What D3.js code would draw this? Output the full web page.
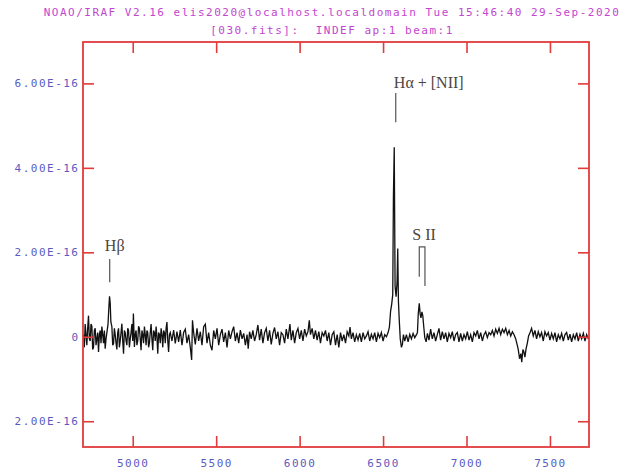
<!DOCTYPE html>
<html>
<head>
<meta charset="utf-8">
<script src="https://cdn.jsdelivr.net/npm/d3@7"></script>
<style>
  body { margin: 0; background: #fff; }
  .mono { font-family: "DejaVu Sans Mono", "Liberation Mono", monospace; font-size: 11px; letter-spacing: 1.5px; white-space: pre; }
  .note { font-family: "Liberation Serif", "DejaVu Serif", serif; font-size: 16px; fill: #4d4640; }
</style>
</head>
<body>
<svg id="plot" width="634" height="473"></svg>
<script>
// title lines
var titleLines = [
  "NOAO/IRAF V2.16 elis2020@localhost.localdomain Tue 15:46:40 29-Sep-2020",
  "[030.fits]:  INDEF ap:1 beam:1"
];

// axis ticks
var xTickValues = [5000, 5500, 6000, 6500, 7000, 7500];
var yTickValues = [-2, 0, 2, 4, 6];            // flux in 1e-16 units
var yTickLabels = ["2.00E-16", "0", "2.00E-16", "4.00E-16", "6.00E-16"];

// spectrum: [wavelength (A), flux (1e-16)]
var spectrum = [
  [4705,0.05],[4710,-0.25],[4715,0.30],[4720,0.05],[4725,-0.20],[4730,0.20],[4735,0.50],[4740,-0.05],
  [4745,-0.10],[4750,0.30],[4755,0.25],[4760,-0.30],[4765,-0.25],[4770,0.15],[4775,0.20],[4780,-0.20],
  [4785,-0.05],[4790,0.10],[4795,-0.36],[4800,0.05],[4805,0.15],[4810,-0.15],[4815,0.24],[4820,0.05],
  [4825,-0.15],[4830,0.15],[4835,-0.28],[4840,-0.05],[4845,0.10],[4852,0.30],
  [4857,0.70],[4861,0.96],[4865,0.80],[4869,0.35],[4875,0.24],[4880,-0.20],[4885,-0.16],[4890,0.20],
  [4895,0.05],[4900,-0.15],[4905,-0.30],[4910,0.10],[4915,0.20],[4920,-0.25],[4925,-0.10],[4930,0.10],
  [4935,0.31],[4940,-0.10],[4945,-0.40],[4950,0.15],[4955,0.10],[4960,-0.10],[4965,-0.20],[4970,0.20],
  [4975,0.15],[4980,-0.25],[4985,-0.05],[4990,0.10],[4995,0.30],[5000,-0.10],[5004,0.55],[5010,-0.24],
  [5015,0.05],[5020,0.15],[5025,-0.20],[5030,-0.10],[5035,0.25],[5040,0.20],[5045,-0.05],[5050,-0.32],
  [5055,0.15],[5060,0.05],[5065,-0.15],[5070,0.24],[5075,0.05],[5080,-0.20],[5085,0.15],[5090,0.10],
  [5095,-0.25],[5100,-0.15],[5105,0.10],[5110,0.30],[5115,-0.05],[5120,-0.32],[5125,0.15],[5130,0.10],
  [5135,-0.10],[5140,0.24],[5145,0.00],[5150,-0.40],[5155,0.10],[5160,0.05],[5165,-0.15],[5170,0.20],
  [5175,0.05],[5180,-0.25],[5185,0.15],[5190,0.10],[5195,-0.15],[5200,0.20],[5205,0.35],[5210,-0.10],
  [5215,-0.36],[5220,0.05],
  [5225,0.10],[5235,-0.10],[5245,0.16],[5255,-0.16],[5265,0.12],[5275,-0.12],[5285,0.16],[5295,-0.20],
  [5305,0.10],[5315,0.18],[5325,-0.15],[5335,0.05],[5345,-0.25],[5353,-0.55],[5358,0.39],[5365,0.10],
  [5375,-0.18],[5385,0.20],[5395,-0.10],[5405,0.12],[5415,-0.20],[5425,0.24],[5435,0.30],[5445,-0.15],
  [5455,0.10],[5465,-0.20],[5475,-0.32],[5485,0.15],[5495,-0.05],[5505,0.20],[5515,-0.20],[5525,0.05],
  [5535,0.18],[5545,-0.12],[5555,0.10],[5565,-0.25],[5575,0.15],[5585,-0.05],[5595,0.12],[5605,0.24],
  [5615,-0.10],[5625,0.10],[5635,-0.15],[5645,0.16],[5655,-0.05],[5665,0.08],[5675,-0.20],[5685,0.05],
  [5692,-0.28],[5700,0.12],[5710,-0.05],[5720,0.15],[5730,-0.10],[5740,0.05],[5750,0.28],[5760,-0.08],
  [5770,0.18],[5780,-0.15],[5790,0.10],[5800,0.20],[5810,-0.10],[5820,0.15],[5830,-0.18],[5840,0.08],
  [5850,0.22],[5860,-0.05],[5870,0.12],[5880,-0.20],[5890,0.10],[5900,0.05],[5910,-0.15],[5920,0.18],
  [5930,-0.05],[5942,0.30],[5950,-0.08],[5960,0.15],[5970,-0.15],[5980,0.10],[5990,0.20],[6000,-0.05],
  [6010,0.15],[6020,-0.10],[6030,0.18],[6040,0.02],[6050,0.12],[6058,0.39],[6065,0.05],[6075,0.20],
  [6085,-0.05],[6095,0.15],[6105,-0.08],[6115,0.12],[6125,-0.15],[6135,0.10],[6145,0.02],[6155,0.15],
  [6165,-0.10],[6175,0.10],[6185,-0.20],[6195,0.05],[6205,0.12],[6215,-0.20],[6225,0.05],[6235,-0.25],
  [6245,0.10],[6255,-0.10],[6265,0.05],[6275,-0.15],[6285,0.12],[6295,0.02],[6302,0.23],[6310,-0.05],
  [6320,0.10],[6330,-0.12],[6340,0.05],[6350,-0.08],[6360,0.08],[6370,-0.12],[6380,0.10],[6390,-0.05],
  [6400,0.02],[6410,0.12],[6420,-0.10],[6430,0.06],[6440,-0.05],[6450,0.10],[6460,-0.12],[6470,0.08],
  [6480,-0.02],[6490,0.10],[6500,-0.10],[6510,0.05],[6520,0.00],[6530,0.10],[6538,0.23],[6545,0.60],
  [6552,0.78],[6558,1.00],[6562,3.30],[6567,4.49],[6572,1.20],[6578,0.95],[6584,1.30],[6588,2.09],
  [6592,0.85],[6597,0.40],[6603,-0.05],[6610,-0.25],[6616,-0.18],[6622,0.05],[6630,-0.10],[6640,0.05],
  [6650,-0.12],[6660,0.06],[6670,-0.05],[6680,0.08],[6690,-0.02],[6700,0.05],[6706,0.10],[6711,0.55],
  [6717,0.79],[6722,0.55],[6727,0.45],[6733,0.59],[6738,0.50],[6744,0.23],[6750,-0.02],[6758,-0.12],
  [6766,0.08],[6775,-0.08],[6785,0.18],[6795,-0.05],[6805,0.10],[6815,-0.10],[6825,0.05],[6835,0.20],
  [6845,-0.08],[6855,0.12],[6865,-0.05],[6875,0.10],[6885,-0.12],[6895,0.08],[6905,-0.02],[6915,0.12],
  [6925,-0.10],[6935,0.05],[6945,0.10],[6955,-0.12],[6965,0.08],[6975,-0.10],[6985,0.05],[6995,-0.05],
  [7005,0.12],[7015,-0.08],[7025,0.05],[7035,-0.12],[7045,0.10],[7055,0.02],[7065,0.15],[7075,-0.05],
  [7085,0.10],[7095,-0.10],[7105,0.05],[7115,0.12],[7125,-0.02],[7135,0.10],[7145,0.05],[7155,0.15],
  [7165,0.02],[7175,0.18],[7185,0.08],[7195,0.20],[7205,0.05],[7215,0.18],[7225,0.10],[7235,0.20],
  [7245,0.05],[7255,0.15],[7265,0.02],[7275,0.12],[7285,0.05],[7295,-0.05],[7303,-0.18],[7310,-0.30],
  [7318,-0.52],[7326,-0.40],[7331,-0.60],[7338,-0.30],[7344,-0.36],[7350,-0.48],[7357,-0.28],[7364,-0.16],
  [7372,0.02],[7381,0.10],[7390,0.20],[7400,0.02],[7410,0.15],[7420,-0.05],[7430,0.12],[7440,0.00],
  [7450,0.10],[7460,-0.10],[7470,0.12],[7480,0.02],[7490,0.10],[7500,-0.08],[7510,0.08],[7520,-0.05],
  [7530,0.10],[7540,-0.12],[7550,0.05],[7560,-0.05],[7570,0.08],[7580,-0.10],[7590,0.05],[7600,0.10],
  [7610,-0.08],[7620,0.06],[7630,-0.12],[7640,0.05],[7650,-0.05],[7660,0.10],[7670,-0.10],[7680,0.06],
  [7690,-0.05],[7700,0.08],[7710,-0.10],[7720,0.05],[7730,-0.05]
];

// line identifications: label, marker wavelengths, label / marker heights in flux units
var lineNames = ["H\u03b2", "H\u03b1 + [NII]", "S II"];
var lineWaves = [[4862], [6576], [6717, 6751]];
var lineLabelFlux = [2.02, 5.88, 2.28];
var lineTopFlux = [1.84, 5.77, 2.13];
var lineBottomFlux = [[1.29], [5.08], [1.42, 1.20]];

var svg = d3.select("#plot"),
    width = +svg.attr("width"),
    height = +svg.attr("height");
var margin = {top: 42, right: 45, bottom: 26, left: 83};
var w = width - margin.left - margin.right,
    h = height - margin.top - margin.bottom;

var x = d3.scaleLinear().domain([4702, 7734]).range([0, w]);
var y = d3.scaleLinear().domain([-2.61, 6.98]).range([h, 0]);

var g = svg.append("g").attr("transform", "translate(" + margin.left + "," + margin.top + ")");

// titles
svg.selectAll(".title")
  .data(titleLines)
  .enter().append("text")
  .attr("class", "title mono")
  .attr("x", margin.left + w / 2 - 4)
  .attr("y", function(d, i) { return 16 + i * 18; })
  .attr("text-anchor", "middle")
  .style("fill", "#c445cf")
  .text(function(d) { return d; });

g.append("clipPath").attr("id", "clip")
  .append("rect").attr("width", w).attr("height", h);

// spectrum
var line = d3.line()
  .x(function(d) { return x(d[0]); })
  .y(function(d) { return y(d[1]); });

g.append("path")
  .datum(spectrum)
  .attr("clip-path", "url(#clip)")
  .attr("d", line)
  .style("fill", "none")
  .style("stroke", "#111")
  .style("stroke-width", 1.3);

// axes (ticks inward, IRAF style)
var red = "#e23b3b";
var axes = [
  {gen: d3.axisBottom(x).tickValues(xTickValues).tickFormat(d3.format("d")).tickPadding(12), tr: "translate(0," + h + ")"},
  {gen: d3.axisTop(x).tickValues(xTickValues).tickFormat(""), tr: "translate(0,0)"},
  {gen: d3.axisLeft(y).tickValues(yTickValues).tickFormat(function(d, i) { return yTickLabels[i]; }).tickPadding(3.5), tr: "translate(0,0)"},
  {gen: d3.axisRight(y).tickValues(yTickValues).tickFormat(""), tr: "translate(" + w + ",0)"}
];
axes.forEach(function(a) {
  var ax = g.append("g")
    .attr("transform", a.tr)
    .call(a.gen.tickSize(-11).tickSizeOuter(0));
  ax.select(".domain").remove();
  ax.selectAll(".tick line").style("stroke", red).style("stroke-width", 1.6);
  ax.selectAll(".tick text")
    .attr("class", "mono")
    .style("fill", "#5b5bbf");
  ax.attr("font-family", null).attr("font-size", null);
});

g.append("rect")
  .attr("width", w)
  .attr("height", h)
  .style("fill", "none")
  .style("stroke", red)
  .style("stroke-width", 1.8);

// line identifications
var labelShift = [5, 33, 2];
lineNames.forEach(function(name, i) {
  var waves = lineWaves[i];
  var xs = waves.map(function(v) { return x(v); });
  g.append("text")
    .attr("class", "note")
    .attr("x", d3.mean(xs) + labelShift[i])
    .attr("y", y(lineLabelFlux[i]))
    .attr("text-anchor", "middle")
    .text(name);
  var d;
  if (waves.length === 1) {
    d = "M" + xs[0] + "," + y(lineTopFlux[i]) + "V" + y(lineBottomFlux[i][0]);
  } else {
    d = "M" + xs[0] + "," + y(lineBottomFlux[i][0]) + "V" + y(lineTopFlux[i]) +
        "H" + xs[1] + "V" + y(lineBottomFlux[i][1]);
  }
  g.append("path")
    .attr("d", d)
    .style("fill", "none")
    .style("stroke", "#555")
    .style("stroke-width", 1.2);
});
</script>
</body>
</html>
